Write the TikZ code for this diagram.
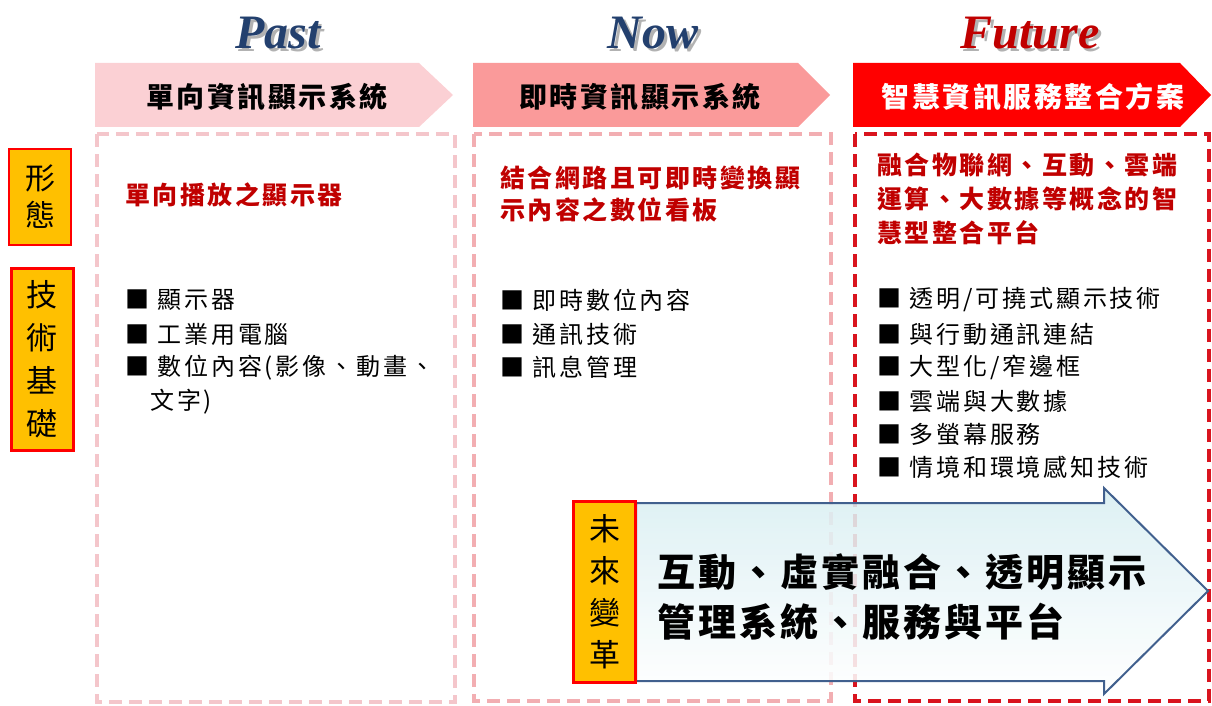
\documentclass[tikz,border=0pt]{standalone}
\usepackage{fontspec}
\setmainfont{Liberation Serif}
\newfontfamily\cjk{Noto Sans CJK TC}
\usetikzlibrary{shadings}
\definecolor{pastpink}{HTML}{FBD0D4}
\definecolor{nowpink}{HTML}{FA9A9A}
\definecolor{futred}{HTML}{FF0000}
\definecolor{dashpast}{HTML}{F4C6CB}
\definecolor{dashnow}{HTML}{F2AEB2}
\definecolor{dashfut}{HTML}{D9141E}
\definecolor{darkred}{HTML}{C00000}
\definecolor{navy}{HTML}{23406E}
\definecolor{gold}{HTML}{FFC000}
\definecolor{arrowline}{HTML}{41608E}
\definecolor{arrowtop}{HTML}{D8EEF2}
\newcommand{\cj}[2]{\cjk\fontsize{#1}{#1}\selectfont\addfontfeature{LetterSpace=#2}}
\newcommand{\cjv}[2]{\cjk\fontsize{#1}{#2}\selectfont}
\tikzset{
  x=1pt, y=-1pt,
  title/.style={font=\fontsize{48}{48}\selectfont\bfseries\itshape, inner sep=0},
  shadowtxt/.style={title, text=black, opacity=0.3},
  dashbox/.style={line width=3.5pt, dash pattern=on 13pt off 7pt},
  hdrtxt/.style={font=\cj{28}{9}\bfseries, inner sep=0},
  redtxt/.style={font=\cj{25}{10}\bfseries, text=darkred, inner sep=0, anchor=west},
  bul/.style={font=\cj{24}{12}, inner sep=0, anchor=west},
  lbl/.style={fill=gold, draw=futred, line width=2.5pt, inner sep=0},
  lbltxt/.style={align=center, inner sep=0}
}
\begin{document}
\begin{tikzpicture}
\useasboundingbox (0,0) rectangle (1212,706);
% titles
\node[shadowtxt] at (281,36) {Past};
\node[title, text=navy] (tpast) at (278,33) {Past};
\node[shadowtxt] at (656,36) {Now};
\node[title, text=navy] (tnow) at (653,33) {Now};
\node[shadowtxt] at (1033,36) {Future};
\node[title, text=darkred] (tfut) at (1030,33) {Future};
% header arrows
\fill[pastpink] (95,63) -- (419,63) -- (453,95) -- (419,127) -- (95,127) -- cycle;
\fill[nowpink] (473,63) -- (798,63) -- (830,95) -- (798,127) -- (473,127) -- cycle;
\fill[futred] (853,63) -- (1180,63) -- (1211,95) -- (1180,127) -- (853,127) -- cycle;
\node[hdrtxt] (hpast) at (267,97) {單向資訊顯示系統};
\node[hdrtxt] (hnow) at (640,97) {即時資訊顯示系統};
\node[hdrtxt, text=white] (hfut) at (1033,97) {智慧資訊服務整合方案};
% dashed boxes
\draw[dashbox, draw=dashpast] (97,134) rectangle (455,702);
\draw[dashbox, draw=dashnow] (474,134) rectangle (831,701);
\draw[dashbox, draw=dashfut] (855,134) rectangle (1209,701);
% left labels
\node[lbl, minimum width=62pt, minimum height=96pt] (xt) at (40,197) {};
\node[lbltxt, font=\cjv{30}{37}] at (40,197) {形\\態};
\node[lbl, minimum width=62pt, minimum height=182pt] (js) at (42.5,359.5) {};
\node[lbltxt, font=\cjv{31}{43}] at (42.5,359.5) {技\\術\\基\\礎};
% column texts
\node[redtxt] (p1) at (125,195) {單向播放之顯示器};
\node[bul] (pb1) at (125,300) {■ 顯示器};
\node[bul] (pb2) at (125,334) {■ 工業用電腦};
\node[bul] (pb3) at (125,368) {■ 數位內容(影像、動畫、};
\node[bul] (pb4) at (150,402) {文字)};
\node[redtxt] (n1) at (500,178) {結合網路且可即時變換顯};
\node[redtxt] (n2) at (500,210) {示內容之數位看板};
\node[bul] (nb1) at (500,300) {■ 即時數位內容};
\node[bul] (nb2) at (500,334) {■ 通訊技術};
\node[bul] (nb3) at (500,367) {■ 訊息管理};
\node[redtxt] (f1) at (877,165) {融合物聯網、互動、雲端};
\node[redtxt] (f2) at (877,199) {運算、大數據等概念的智};
\node[redtxt] (f3) at (877,233) {慧型整合平台};
\node[bul] (fb1) at (877,300) {■ 透明/可撓式顯示技術};
\node[bul] (fb2) at (877,334) {■ 與行動通訊連結};
\node[bul] (fb3) at (877,367) {■ 大型化/窄邊框};
\node[bul] (fb4) at (877,401) {■ 雲端與大數據};
\node[bul] (fb5) at (877,434) {■ 多螢幕服務};
\node[bul] (fb6) at (877,467) {■ 情境和環境感知技術};
% big arrow
\shade[top color=arrowtop, bottom color=white, opacity=0.88]
  (636,503) -- (1104,503) -- (1104,488) -- (1208,591) -- (1104,694) -- (1104,681) -- (636,681) -- cycle;
\draw[arrowline, line width=2pt, line join=miter]
  (636,503) -- (1104,503) -- (1104,488) -- (1208,591) -- (1104,694) -- (1104,681) -- (636,681) -- cycle;
\node[inner sep=0, anchor=west, font=\cj{38}{8}\bfseries] (a1) at (657,572) {互動、虛實融合、透明顯示};
\node[inner sep=0, anchor=west, font=\cj{38}{8}\bfseries] (a2) at (657,622) {管理系統、服務與平台};
\node[lbl, minimum width=62pt, minimum height=181pt] (wl) at (604.5,592) {};
\node[lbltxt, font=\cjv{31}{42}] at (604.5,592) {未\\來\\變\\革};
\end{tikzpicture}
\end{document}
